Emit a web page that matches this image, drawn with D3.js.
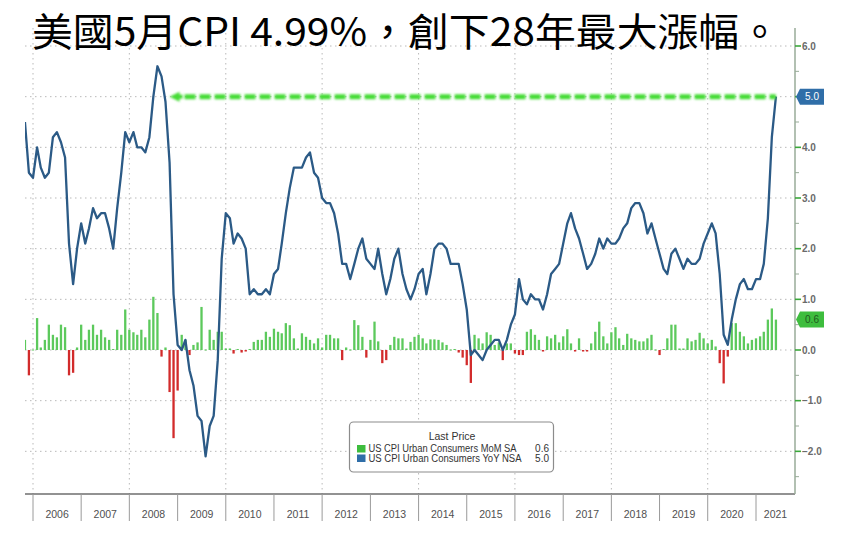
<!DOCTYPE html>
<html><head><meta charset="utf-8">
<script src="https://cdn.jsdelivr.net/npm/d3@7"></script>
<style>body{margin:0;background:#fff}svg{display:block}</style>
</head><body>
<svg id="c" width="858" height="545"></svg>
<script>
// ---------- DATA ----------
const titleText = "美國5月CPI 4.99%，創下28年最大漲幅。";
const startMonth = [2005, 9]; // Oct 2005 (0-based month)
const yearLabels = ["2006","2007","2008","2009","2010","2011","2012","2013","2014","2015","2016","2017","2018","2019","2020","2021"];
const yTickValues = [-2, -1, 0, 1, 2, 3, 4, 5, 6];
const yoyValues = [
  4.5, 3.5, 3.4,
  4.0, 3.6, 3.4, 3.5, 4.2, 4.3, 4.1, 3.8, 2.1, 1.3, 2.0, 2.5,
  2.1, 2.4, 2.8, 2.6, 2.7, 2.7, 2.4, 2.0, 2.8, 3.5, 4.3, 4.1,
  4.3, 4.0, 4.0, 3.9, 4.2, 5.0, 5.6, 5.4, 4.9, 3.7, 1.1, 0.1,
  0.0, 0.2, -0.4, -0.7, -1.3, -1.4, -2.1, -1.5, -1.3, -0.2, 1.8, 2.7,
  2.6, 2.1, 2.3, 2.2, 2.0, 1.1, 1.2, 1.1, 1.1, 1.2, 1.1, 1.5,
  1.6, 2.1, 2.7, 3.2, 3.6, 3.6, 3.6, 3.8, 3.9, 3.5, 3.4, 3.0,
  2.9, 2.9, 2.7, 2.3, 1.7, 1.7, 1.4, 1.7, 2.0, 2.2, 1.8, 1.7,
  1.6, 2.0, 1.5, 1.1, 1.4, 1.8, 2.0, 1.5, 1.2, 1.0, 1.2, 1.5,
  1.6, 1.1, 1.5, 2.0, 2.1, 2.1, 2.0, 1.7, 1.7, 1.7, 1.3, 0.8,
  -0.1, 0.0, -0.1, -0.2, 0.0, 0.1, 0.2, 0.2, 0.0, 0.2, 0.5, 0.7,
  1.4, 1.0, 0.9, 1.1, 1.0, 1.0, 0.8, 1.1, 1.5, 1.6, 1.7, 2.1,
  2.5, 2.7, 2.4, 2.2, 1.9, 1.6, 1.7, 1.9, 2.2, 2.0, 2.2, 2.1,
  2.1, 2.2, 2.4, 2.5, 2.8, 2.9, 2.9, 2.7, 2.3, 2.5, 2.2, 1.9,
  1.6, 1.5, 1.9, 2.0, 1.8, 1.6, 1.8, 1.7, 1.7, 1.8, 2.1, 2.3,
  2.5, 2.3, 1.5, 0.3, 0.1, 0.6, 1.0, 1.3, 1.4, 1.2, 1.2, 1.4,
  1.4, 1.7, 2.6, 4.2, 5.0
];
const momValues = [
  0.2, -0.5, 0.0,
  0.63, 0.05, 0.2, 0.5, 0.3, 0.25, 0.5, 0.45, -0.5, -0.45, 0.05, 0.5,
  0.2, 0.4, 0.5, 0.3, 0.4, 0.25, 0.2, 0.02, 0.4, 0.3, 0.8, 0.4,
  0.35, 0.3, 0.4, 0.25, 0.6, 1.05, 0.73, -0.13, 0.05, -0.83, -1.74, -0.8,
  0.3, 0.2, -0.1, 0.1, 0.15, 0.85, 0.0, 0.4, 0.2, 0.36, 0.36, 0.03,
  0.03, -0.07, 0.02, -0.05, -0.03, 0.02, 0.16, 0.2, 0.2, 0.36, 0.26, 0.42,
  0.36, 0.33, 0.53, 0.49, 0.23, 0.03, 0.33, 0.26, 0.2, 0.13, 0.23, 0.05,
  0.3, 0.3, 0.23, 0.23, -0.2, 0.05, 0.0, 0.59, 0.49, 0.26, -0.15, 0.2,
  0.56, 0.17, -0.26, -0.2, 0.1, 0.26, 0.23, 0.23, 0.03, 0.16, 0.26, 0.3,
  0.23, 0.13, 0.21, 0.21, 0.2, 0.15, 0.1, 0.0, 0.02, -0.05, -0.15, -0.3,
  -0.65, 0.3, 0.23, 0.13, 0.35, 0.3, 0.1, 0.15, -0.2, 0.13, 0.13, -0.07,
  -0.1, -0.1, 0.36, 0.41, 0.3, 0.2, -0.03, 0.27, 0.23, 0.3, 0.15, 0.27,
  0.41, 0.13, -0.03, 0.23, -0.03, -0.03, 0.13, 0.36, 0.56, 0.27, 0.13, 0.35,
  0.45, 0.23, 0.1, 0.32, 0.23, 0.2, 0.17, 0.17, 0.23, 0.3, 0.0, -0.1,
  0.02, 0.23, 0.5, 0.5, 0.03, 0.03, 0.23, 0.17, 0.2, 0.34, 0.23, 0.13,
  0.2, 0.07, -0.26, -0.66, -0.13, 0.53, 0.53, 0.36, 0.27, 0.13, 0.2, 0.23,
  0.27, 0.36, 0.6, 0.82, 0.6
];
const legendTitle = "Last Price";
const legendNames = ["US CPI Urban Consumers MoM SA", "US CPI Urban Consumers YoY NSA"];
const legendLast = ["0.6", "5.0"];

// ---------- LAYOUT ----------
const svg = d3.select("#c");
const pLeft = 25, pRight = 795, pTop = 28, pBottom = 494;
const colLine = "#2b5a86", colGreen = "#5cc95c", colRed = "#d22b2b";

const months = momValues.map((_, i) => new Date(startMonth[0], startMonth[1] + i + 1, 1)); // month-end
const x = d3.scaleTime().domain([new Date(2006,0,1), new Date(2021,0,1)]).range([33, 756]);
const y = d3.scaleLinear().domain([0, 6]).range([350, 46]);

const defs = svg.append("defs");
defs.append("clipPath").attr("id","plot").append("rect")
  .attr("x", pLeft).attr("y", pTop).attr("width", pRight-pLeft).attr("height", pBottom-pTop);
const blur = defs.append("filter").attr("id","glow").attr("x","-20%").attr("y","-100%").attr("width","140%").attr("height","300%");
blur.append("feGaussianBlur").attr("stdDeviation", 0.9);

// gridlines
const g = svg.append("g");
g.selectAll("line.hg").data(yTickValues).join("line")
  .attr("x1", pLeft).attr("x2", pRight).attr("y1", d=>y(d)).attr("y2", d=>y(d))
  .attr("stroke", "#b9b9b9").attr("stroke-width", 1).attr("stroke-dasharray", "1.5,3.5");
const evenYears = yearLabels.filter(v => +v % 2 === 0);
g.selectAll("line.vg").data(evenYears).join("line")
  .attr("x1", d=>x(new Date(+d,0,1))).attr("x2", d=>x(new Date(+d,0,1)))
  .attr("y1", pTop).attr("y2", pBottom)
  .attr("stroke", "#b9b9b9").attr("stroke-width", 1).attr("stroke-dasharray", "1.5,3.5");

// bars
const plot = svg.append("g").attr("clip-path","url(#plot)");
const bw = 2.3;
plot.selectAll("rect.bar").data(momValues).join("rect")
  .attr("x", (d,i)=>x(months[i]) - bw/2)
  .attr("width", bw)
  .attr("y", d => Math.min(y(d), y(0)) - (Math.abs(y(d)-y(0))<1 ? 0.5 : 0))
  .attr("height", d => Math.max(Math.abs(y(d)-y(0)), 1))
  .attr("fill", d => d < 0 ? colRed : colGreen);

// line
const line = d3.line().x((d,i)=>x(months[i])).y(d=>y(d)).curve(d3.curveLinear);
plot.append("path").datum(yoyValues).attr("d", line)
  .attr("fill","none").attr("stroke", colLine).attr("stroke-width", 2.3).attr("stroke-linejoin","round");

// green dashed arrow at last YoY value
const lastIdx = yoyValues.length - 1;
const ay = y(yoyValues[lastIdx]);
const ax2 = x(months[lastIdx]);
const tipX = x(new Date(2008,10,1));
const ag = svg.append("g").attr("filter","url(#glow)");
ag.append("line").attr("x1", tipX + 15).attr("x2", ax2).attr("y1", ay).attr("y2", ay)
  .attr("stroke", "#45dc35").attr("stroke-width", 5).attr("stroke-dasharray", "11,4");
ag.append("path")
  .attr("d", `M${tipX},${ay} L${tipX+10},${ay-5} L${tipX+10},${ay+5} Z`)
  .attr("fill", "#45dc35");
ag.append("line").attr("x1", tipX+8).attr("x2", tipX+13).attr("y1", ay).attr("y2", ay)
  .attr("stroke", "#45dc35").attr("stroke-width", 4);

// x axis
svg.append("line").attr("x1", pLeft).attr("x2", pRight).attr("y1", pBottom).attr("y2", pBottom)
  .attr("stroke", "#6e6e6e").attr("stroke-width", 1.5);
svg.selectAll("line.sep").data(yearLabels).join("line")
  .attr("x1", d=>x(new Date(+d,0,1))).attr("x2", d=>x(new Date(+d,0,1)))
  .attr("y1", pBottom).attr("y2", 521)
  .attr("stroke", "#9a9a9a").attr("stroke-width", 1);
svg.selectAll("text.yl").data(yearLabels).join("text")
  .attr("x", d => (x(new Date(+d,0,1)) + Math.min(x(new Date(+d+1,0,1)), pRight))/2)
  .attr("y", 518)
  .attr("text-anchor","middle")
  .attr("font-family","Liberation Sans, Arial, sans-serif").attr("font-size", 10.5)
  .attr("fill", "#505050").text(d=>d);

// right axis
svg.append("line").attr("x1", pRight).attr("x2", pRight).attr("y1", pTop).attr("y2", pBottom)
  .attr("stroke", "#98ab98").attr("stroke-width", 1.5);
const minorTicks = d3.range(-2.5, 6.01, 0.5).filter(v => y(v) > pTop && y(v) < pBottom);
svg.selectAll("line.mt").data(minorTicks).join("line")
  .attr("x1", pRight).attr("x2", d => Number.isInteger(d) ? pRight+6 : pRight+4)
  .attr("y1", d=>y(d)).attr("y2", d=>y(d))
  .attr("stroke", d => Number.isInteger(d) ? "#3aa83a" : "#98ab98").attr("stroke-width", d => Number.isInteger(d) ? 1.6 : 1);
// the 5.0 tick label sits under the last-value tag, so it is not shown
const lastYoY = yoyValues[lastIdx];
svg.selectAll("text.yt").data(yTickValues.filter(v => Math.abs(v - lastYoY) > 0.3)).join("text")
  .attr("x", 802).attr("y", d=>y(d)).attr("dy","0.36em")
  .attr("font-family","Liberation Sans, Arial, sans-serif").attr("font-size", 10).attr("font-weight","bold")
  .attr("fill", "#6a6a6a").text(d=>d3.format(".1f")(d));

// last value tags
const tag = (val, label, fill, txt) => {
  const ty = y(val);
  svg.append("path")
    .attr("d", `M${pRight+1},${ty} L${pRight+5},${ty-8} L${pRight+29},${ty-8} L${pRight+29},${ty+8} L${pRight+5},${ty+8} Z`)
    .attr("fill", fill);
  svg.append("text").attr("x", pRight+17).attr("y", ty).attr("dy","0.36em").attr("text-anchor","middle")
    .attr("font-family","Liberation Sans, Arial, sans-serif").attr("font-size", 10)
    .attr("fill", txt).text(label);
};
tag(lastYoY, legendLast[1], "#2f6ea8", "#ffffff");
tag(momValues[lastIdx], legendLast[0], "#3ebd3e", "#1e5a1e");

// legend
const lg = svg.append("g");
lg.append("rect").attr("x", 349.5).attr("y", 422).attr("width", 204).attr("height", 50).attr("rx", 4)
  .attr("fill", "#fff").attr("stroke", "#8c8c8c").attr("stroke-width", 1.2);
lg.append("text").attr("x", 452).attr("y", 440).attr("text-anchor","middle")
  .attr("font-family","Liberation Sans, Arial, sans-serif").attr("font-size", 10.5).attr("fill","#333").text(legendTitle);
legendNames.forEach((n, i) => {
  const ry = 445 + i*9.5;
  lg.append("rect").attr("x", 357).attr("y", ry).attr("width", 8.5).attr("height", 7.5).attr("fill", i===0 ? "#3ebd3e" : "#2f6ea8");
  lg.append("text").attr("x", 368.5).attr("y", ry + 7.3)
    .attr("font-family","Liberation Sans, Arial, sans-serif").attr("font-size", 10).attr("fill","#333")
    .attr("textLength", i===0 ? 148 : 153).attr("lengthAdjust","spacingAndGlyphs").text(n);
  lg.append("text").attr("x", 549).attr("y", ry + 7.3).attr("text-anchor","end")
    .attr("font-family","Liberation Sans, Arial, sans-serif").attr("font-size", 10).attr("fill","#333").text(legendLast[i]);
});

// title
svg.append("text").attr("x", 32).attr("y", 46)
  .attr("font-family","Noto Sans CJK TC, Noto Sans CJK SC, sans-serif").attr("font-size", 39).attr("font-weight", 400)
  .attr("fill", "#000").attr("textLength", 748).attr("lengthAdjust","spacingAndGlyphs").text(titleText);
</script>
</body></html>
